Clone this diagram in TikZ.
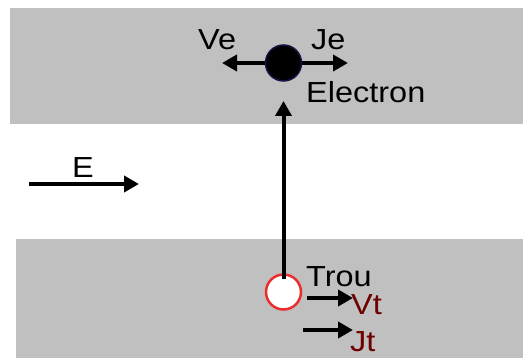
\documentclass[tikz,border=0pt]{standalone}
\usepackage{fontspec}
\setmainfont{Liberation Sans}
\usetikzlibrary{arrows.meta}
\definecolor{bandgray}{RGB}{192,192,192}
\definecolor{holered}{RGB}{235,45,45}
\definecolor{darkred}{RGB}{110,0,0}
\definecolor{eldark}{RGB}{20,20,70}
\newcommand{\widetxt}[1]{\scalebox{1.12}[1]{#1}}
\begin{document}
\begin{tikzpicture}[x=1pt,y=-1pt,
  lbl/.style={inner sep=0pt,anchor=base west,font=\fontsize{29}{29}\selectfont},
  arr/.style={line width=4pt,-{Triangle[length=15pt,width=16pt]}}]
\useasboundingbox (0,0) rectangle (523,358);
\fill[white] (0,0) rectangle (523,358);
\fill[bandgray] (10,8) rectangle (523,124);
\fill[bandgray] (16,239) rectangle (523,358);
% electron
\node[circle,fill=black,draw=eldark,line width=1.5pt,minimum size=36pt,inner sep=0pt] (el) at (283.5,63) {};
\coordinate (veend) at (222,63);
\coordinate (jeend) at (348,63);
\draw[arr] (el.west) -- (veend);
\draw[arr] (el.east) -- (jeend);
\node[lbl] (ve) at (198,50) {\widetxt{Ve}};
\node[lbl] (je) at (311,50) {\widetxt{Je}};
\node[lbl] (elec) at (306,103) {\widetxt{Electron}};
% hole
\node[circle,fill=white,draw=holered,line width=2.5pt,minimum size=35pt,inner sep=0pt] (tr) at (283.5,292) {};
\coordinate (vtop) at (283.5,101);
\draw[arr] ([yshift=-6pt]tr.north) -- (vtop);
\node[lbl] (trou) at (306,287) {\widetxt{Trou}};
\coordinate (vt0) at (307,298);
\coordinate (vt1) at (353,298);
\draw[arr] (vt0) -- (vt1);
\node[lbl,text=darkred] (vt) at (351,315) {\widetxt{Vt}};
\coordinate (jt0) at (303,330);
\coordinate (jt1) at (353,330);
\draw[arr] (jt0) -- (jt1);
\node[lbl,text=darkred] (jt) at (350,352) {\widetxt{Jt}};
% field
\coordinate (e0) at (29,184);
\coordinate (e1) at (139,184);
\draw[arr] (e0) -- (e1);
\node[lbl] (E) at (72,178) {\widetxt{E}};
\end{tikzpicture}
\end{document}
